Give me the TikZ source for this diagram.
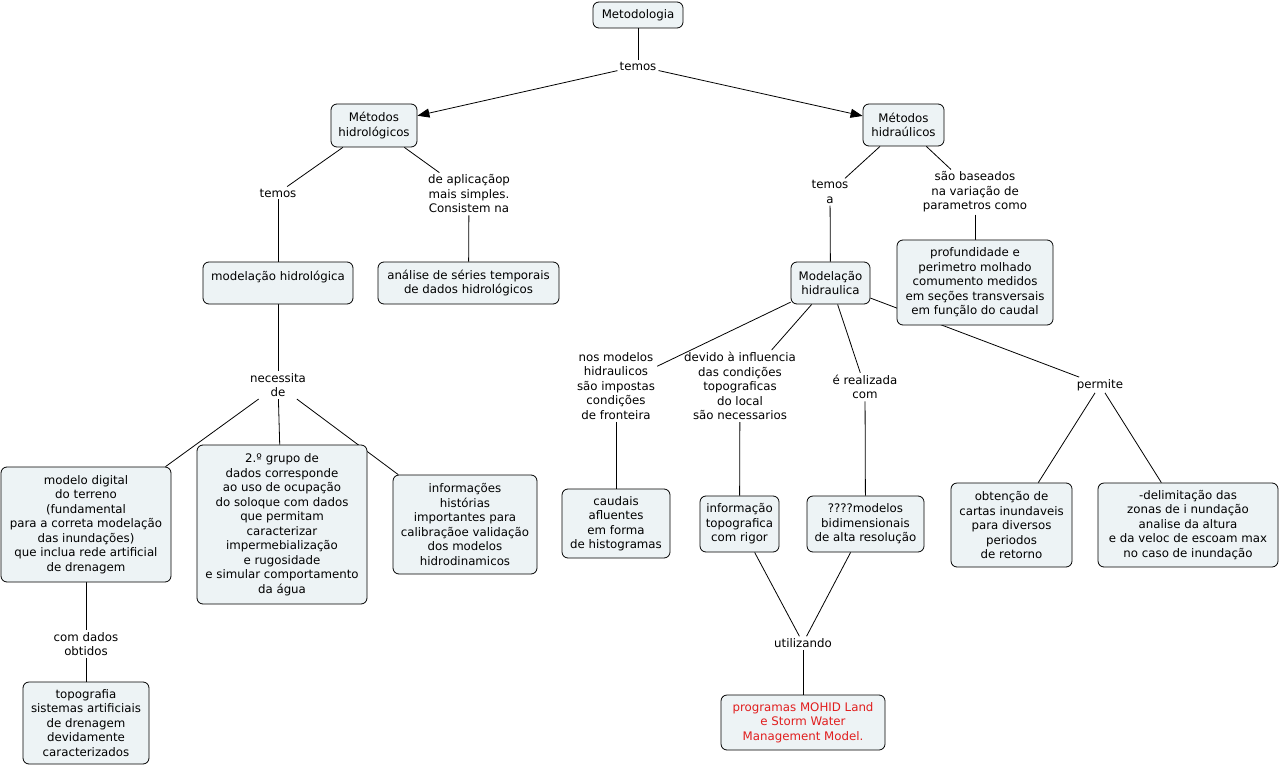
\documentclass[tikz,border=0pt]{standalone}
\usepackage{fontspec}
\setmainfont{DejaVu Sans}
\usetikzlibrary{arrows.meta}
\pgfdeclarelayer{background}
\pgfsetlayers{background,main}
\definecolor{boxfill}{RGB}{237,243,245}
\definecolor{progred}{RGB}{225,30,30}
\newcommand\fsz{\fontsize{11.8}{14.5}\selectfont}
\tikzset{
  cbox/.style={draw=black, line width=0.8pt, fill=boxfill, rounded corners=6pt, align=center, inner sep=1pt, font=\fsz},
  lbl/.style={align=center, inner sep=2pt, font=\fsz},
  conn/.style={line width=0.8pt, draw=black},
  arr/.style={conn, -{Triangle[length=12pt,width=9pt]}},
}
\begin{document}
\begin{tikzpicture}[x=1pt,y=-1pt]
\useasboundingbox (0,0) rectangle (1281,767);
% boxes
\node[cbox, minimum width=90, minimum height=26] (meta) at (638,15) {Metodologia};
\node[cbox, minimum width=86, minimum height=43] (mhl) at (374,125.5) {Métodos\\hidrológicos};
\node[cbox, minimum width=81, minimum height=42] (mhu) at (903.5,125) {Métodos\\hidraúlicos};
\node[cbox, minimum width=150, minimum height=42] (modhl) at (278,283) {modelação hidrológica\\\mbox{}};
\node[cbox, minimum width=181, minimum height=42] (ana) at (468.5,283) {análise de séries temporais\\de dados hidrológicos};
\node[cbox, minimum width=170, minimum height=115] (mdt) at (86,524.5) {modelo digital\\do terreno\\(fundamental\\para a correta modelação\\das inundações)\\que inclua rede artificial\\de drenagem};
\node[cbox, minimum width=170, minimum height=159] (grupo) at (282,524.5) {2.º grupo de\\dados corresponde\\ao uso de ocupação\\do soloque com dados\\que permitam\\caracterizar\\impermebialização\\e rugosidade\\e simular comportamento\\da água};
\node[cbox, minimum width=144, minimum height=99] (info) at (465,524.5) {informações\\histórias\\importantes para\\calibraçãoe validação\\dos modelos\\hidrodinamicos};
\node[cbox, minimum width=126, minimum height=82] (topo) at (86,723) {topografia\\sistemas artificiais\\de drenagem\\devidamente\\caracterizados};
\node[cbox, minimum width=156, minimum height=85] (prof) at (975,282.5) {profundidade e\\perimetro molhado\\comumento medidos\\em seções transversais\\em funçãlo do caudal};
\node[cbox, minimum width=79, minimum height=42] (modh) at (830.5,283) {Modelação\\hidraulica};
\node[cbox, minimum width=108, minimum height=69] (caud) at (616,523.5) {caudais\\afluentes\\em forma\\de histogramas};
\node[cbox, minimum width=79, minimum height=56] (infot) at (739.5,524) {informação\\topografica\\com rigor};
\node[cbox, minimum width=117, minimum height=56] (bidim) at (865.5,524) {????modelos\\bidimensionais\\de alta resolução};
\node[cbox, minimum width=121, minimum height=84] (obt) at (1011.5,525) {obtenção de\\cartas inundaveis\\para diversos\\periodos\\de retorno};
\node[cbox, minimum width=180, minimum height=84] (delim) at (1188,525) {-delimitação das\\zonas de i nundação\\analise da altura\\e da veloc de escoam max\\no caso de inundação};
\node[cbox, minimum width=164, minimum height=55, text=progred] (prog) at (803,722.5) {programas MOHID Land\\e Storm Water\\Management Model.};
% labels
\node[lbl] (temos0) at (638,66) {temos};
\node[lbl] (temosL) at (278,193) {temos};
\node[lbl] (aplic) at (469,194) {de aplicaçãop\\mais simples.\\Consistem na};
\node[lbl] (neces) at (278,385) {necessita\\de};
\node[lbl] (comdados) at (86,644) {com dados\\obtidos};
\node[lbl] (temosa) at (830,192) {temos\\a};
\node[lbl] (baseados) at (975,192) {são baseados\\na variação de\\parametros como};
\node[lbl] (nos) at (616,386) {nos modelos\\hidraulicos\\são impostas\\condições\\de fronteira};
\node[lbl] (devido) at (740,386) {devido à influencia\\das condições\\topograficas\\do local\\são necessarios};
\node[lbl] (realiz) at (865,387) {é realizada\\com};
\node[lbl] (permite) at (1100,385) {permite};
\node[lbl] (utiliz) at (803,643) {utilizando};
% connectors
\begin{pgfonlayer}{background}
\fill[white] (0,0) rectangle (1281,767);
\draw[conn] (meta) -- (temos0);
\draw[arr] (temos0) -- (mhl);
\draw[arr] (temos0) -- (mhu);
\draw[conn] (mhl) -- (temosL);
\draw[conn] (temosL) -- (modhl);
\draw[conn] (mhl) -- (aplic);
\draw[conn] (aplic) -- (ana);
\draw[conn] (modhl) -- (neces);
\draw[conn] (neces) -- (mdt);
\draw[conn] (neces) -- (grupo);
\draw[conn] (neces) -- (info);
\draw[conn] (mdt) -- (comdados);
\draw[conn] (comdados) -- (topo);
\draw[conn] (mhu) -- (temosa);
\draw[conn] (temosa) -- (modh);
\draw[conn] (mhu) -- (baseados);
\draw[conn] (baseados) -- (prof);
\draw[conn] (modh) -- (nos);
\draw[conn] (modh) -- (devido);
\draw[conn] (modh) -- (realiz);
\draw[conn] (modh) -- (permite);
\draw[conn] (nos) -- (caud);
\draw[conn] (devido) -- (infot);
\draw[conn] (realiz) -- (bidim);
\draw[conn] (permite) -- (obt);
\draw[conn] (permite) -- (delim);
\draw[conn] (infot) -- (utiliz);
\draw[conn] (bidim) -- (utiliz);
\draw[conn] (utiliz) -- (prog);
\end{pgfonlayer}
\end{tikzpicture}
\end{document}
